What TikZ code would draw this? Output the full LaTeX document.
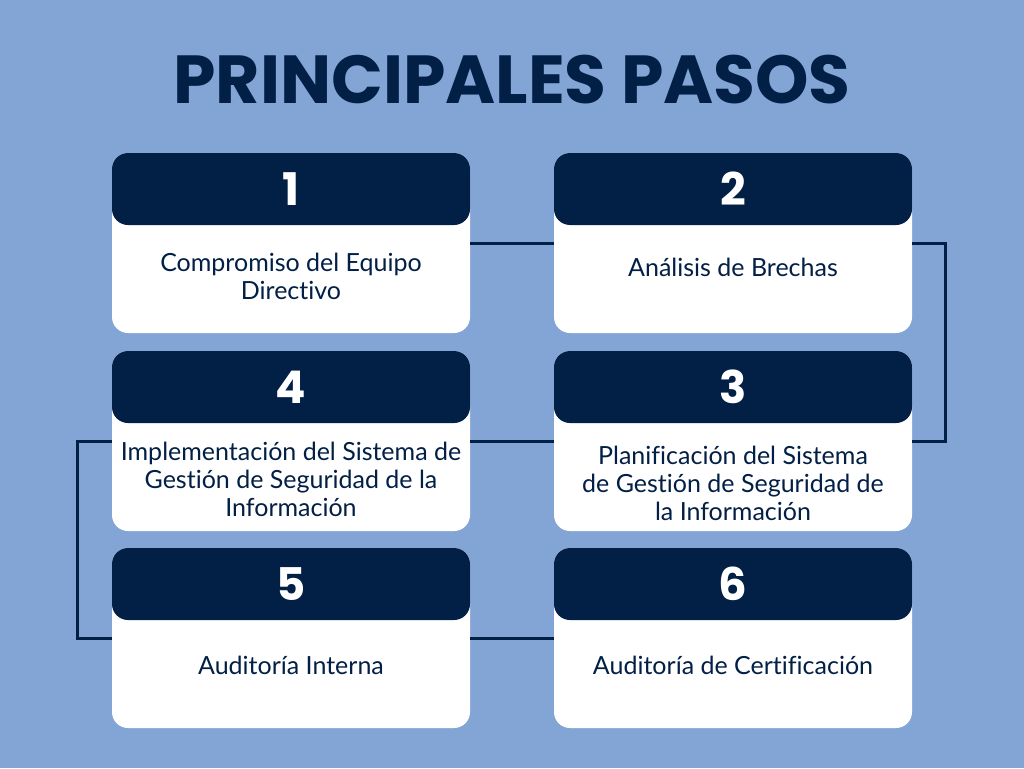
\documentclass[tikz,border=0pt]{standalone}
\usepackage{fontspec}
\setmainfont{Lato}[Ligatures=NoCommon]
\newfontfamily\popfont{Poppins}
\definecolor{bgblue}{RGB}{131,165,213}
\definecolor{navy}{RGB}{2,31,70}
\tikzset{
  box/.style={fill=white, rounded corners=16pt, minimum width=358pt, minimum height=180pt, inner sep=0pt},
  head/.style={fill=navy, rounded corners=16pt, minimum width=358pt, minimum height=72pt, inner sep=0pt,
    text=white, font=\popfont\bfseries\fontsize{45}{45}\selectfont, anchor=north},
  body/.style={text=navy, align=center, font=\fontsize{25}{28}\selectfont, inner sep=0pt},
  link/.style={draw=navy, line width=3pt},
  ttl/.style={text=navy, font=\popfont\bfseries\fontsize{68}{68}\selectfont, inner sep=0pt}
}
\begin{document}
\begin{tikzpicture}[x=1pt,y=-1pt]
\fill[bgblue] (0,0) rectangle (1024,768);
\useasboundingbox (0,0) rectangle (1024,768);
\node[ttl] (title) at (512,80) {PRINCIPALES PASOS};
% boxes
\node[box] (b1) at (291,243) {};
\node[box] (b2) at (733,243) {};
\node[box] (b4) at (291,441) {};
\node[box] (b3) at (733,441) {};
\node[box] (b5) at (291,638) {};
\node[box] (b6) at (733,638) {};
% connectors
\draw[link] (b1.east) -- (b2.west);
\draw[link] (b2.east) -- ++(33,0) |- (b3.east);
\draw[link] (b3.west) -- (b4.west -| b4.east);
\draw[link] (b4.west) -- ++(-34,0) |- (b5.west);
\draw[link] (b5.east) -- (b6.west);
% headers
\node[head] (h1) at (b1.north) {1};
\node[head] (h2) at (b2.north) {2};
\node[head] (h3) at (b3.north) {3};
\node[head] (h4) at (b4.north) {4};
\node[head] (h5) at (b5.north) {5};
\node[head] (h6) at (b6.north) {6};
% texts
\node[body] (t1) at (291,276) {Compromiso del Equipo\\Directivo};
\node[body] (t2) at (733,267) {Análisis de Brechas};
\node[body] (t4) at (291,479) {Implementación del Sistema de\\Gestión de Seguridad de la\\Información};
\node[body] (t3) at (733,483) {Planificación del Sistema\\de Gestión de Seguridad de\\la Información};
\node[body] (t5) at (291,665) {Auditoría Interna};
\node[body] (t6) at (733,665) {Auditoría de Certificación};
\end{tikzpicture}
\end{document}
